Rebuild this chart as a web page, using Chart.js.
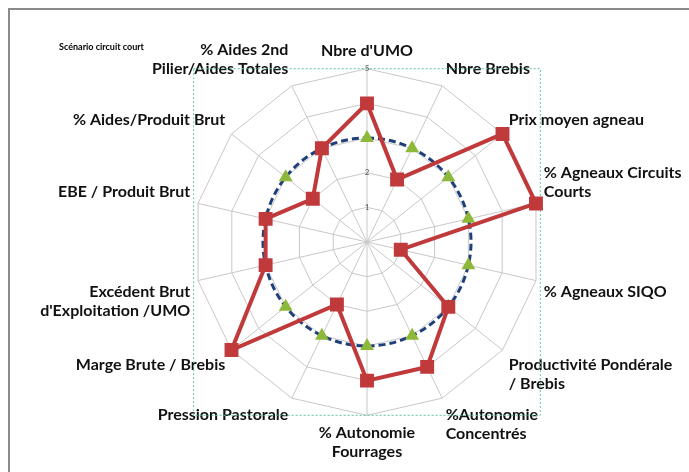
<!DOCTYPE html>
<html>
<head>
<meta charset="utf-8">
<script src="https://cdn.jsdelivr.net/npm/chart.js@4"></script>
<style>
  body { margin: 0; background: #fff; }
  #wrap { position: relative; width: 689px; height: 472px; }
  #frame { position: absolute; left: 8px; top: 8px; right: 0; bottom: 0; border-top: 2px solid #8a8a8a; border-left: 2px solid #8a8a8a; }
  #titre { position: absolute; left: 59px; top: 41px; font: bold 9px Lato, sans-serif; color: #000; }
</style>
</head>
<body>
<div id="wrap">
  <div id="frame"></div>
  <div id="titre">Scénario circuit court</div>
  <canvas id="myChart"></canvas>
</div>
<script>
 // Axes du radar
 const categories = [
     "Nbre d'UMO", "Nbre Brebis", "Prix moyen agneau", ["% Agneaux Circuits", "Courts"],
     "% Agneaux SIQO", ["Productivité Pondérale", "/ Brebis"], ["%Autonomie", "Concentrés"],
     ["% Autonomie", "Fourrages"], "Pression Pastorale", "Marge Brute / Brebis",
     ["Excédent Brut", "d'Exploitation /UMO"], "EBE / Produit Brut", "% Aides/Produit Brut",
     ["% Aides 2nd", "Pilier/Aides Totales"]
 ];
 const scenarioValues = [4, 2, 5, 5, 1, 3, 4, 4, 2, 5, 3, 3, 2, 3];
 const referenceValues = [3, 3, 3, 3, 3, 3, 3, 3, 3, 3, 3, 3, 3, 3];
 const tickValues = [0, 1, 2, 3, 4, 5];

 // cadre pointillé vert autour de la zone de tracé
 const plotFrame = {
     id: 'plotFrame',
     beforeDatasetsDraw(chart) {
         const s = chart.scales.r;
         const ctx = chart.ctx;
         const r = s.drawingArea;
         ctx.save();
         ctx.strokeStyle = '#5cc79a';
         ctx.lineWidth = 1;
         ctx.setLineDash([2, 2]);
         ctx.strokeRect(s.xCenter - r, s.yCenter - r, 2 * r, 2 * r);
         ctx.restore();
     }
 };

 new Chart("myChart", {
     type: "radar",
     data: {
         labels: categories,
         datasets: [{
             label: 'Scénario circuit court',
             data: scenarioValues,
             borderColor: "#c0393b",
             backgroundColor: "#c0393b",
             borderWidth: 4,
             pointStyle: 'rect',
             pointRadius: 7,
             pointHoverRadius: 7,
             fill: false
         }, {
             label: 'Référence',
             data: referenceValues,
             borderColor: "#1f3f7a",
             backgroundColor: "#8db83a",
             pointBackgroundColor: "#8db83a",
             pointBorderColor: "#8db83a",
             borderWidth: 3,
             borderDash: [7, 4],
             pointStyle: 'triangle',
             pointRadius: 5,
             tension: 0.35,
             fill: false
         }]
     },
     options: {
         responsive: true,
         maintainAspectRatio: false,
         animation: false,
         layout: { padding: { left: 34, right: -42, top: 32, bottom: -28 } },
         plugins: { legend: { display: false }, tooltip: { enabled: false } },
         scales: {
             r: {
                 min: tickValues[0],
                 max: tickValues[tickValues.length - 1],
                 ticks: {
                     stepSize: 1,
                     showLabelBackdrop: false,
                     color: '#555',
                     font: { size: 8, family: 'Lato' }
                 },
                 grid: { color: '#c8c8c8', lineWidth: 1 },
                 angleLines: { color: '#c8c8c8' },
                 pointLabels: {
                     color: '#111',
                     padding: 2,
                     font: { size: 16, weight: 'bold', family: 'Lato' }
                 }
             }
         }
     },
     plugins: [plotFrame]
 });
</script>
</body>
</html>
